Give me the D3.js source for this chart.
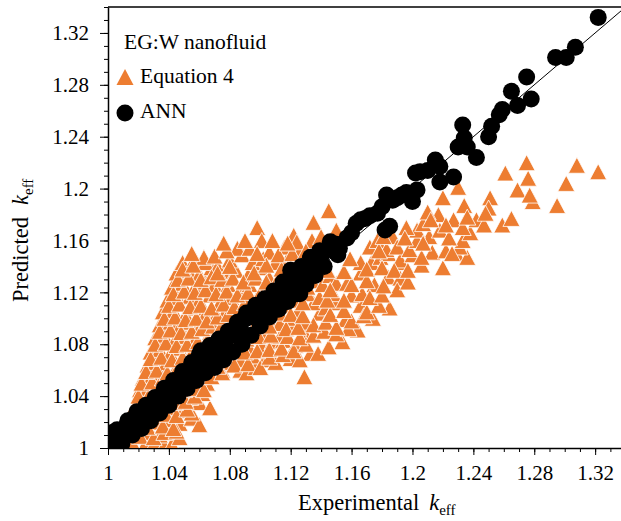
<!DOCTYPE html>
<html>
<head>
<meta charset="utf-8">
<script src="https://cdn.jsdelivr.net/npm/d3@7"></script>
<style>
  body { margin: 0; background: #fff; }
  svg { display: block; font-family: "Liberation Serif", "Times New Roman", serif; }
  .axis path, .axis line { stroke: #000; }
  .axis text { font-size: 21px; fill: #000; font-family: "Liberation Serif", "Times New Roman", serif; }
</style>
</head>
<body>
<div id="chart"></div>
<script>
// ANN predictions [experimental, predicted]
const annPoints = [
  [1.003, 1.006], [1.005, 1.004], [1.003, 1.012], [1.007, 1.009], [1.011, 1.013],
  [1.012, 1.017], [1.015, 1.019], [1.017, 1.023], [1.020, 1.022], [1.023, 1.025],
  [1.026, 1.029], [1.028, 1.027], [1.030, 1.032], [1.032, 1.035], [1.035, 1.038],
  [1.037, 1.041], [1.039, 1.042], [1.041, 1.046], [1.044, 1.048], [1.046, 1.052],
  [1.049, 1.054], [1.051, 1.055], [1.053, 1.059], [1.056, 1.062], [1.058, 1.064],
  [1.060, 1.067], [1.060, 1.072], [1.063, 1.069], [1.066, 1.072], [1.068, 1.075],
  [1.070, 1.069], [1.071, 1.078], [1.074, 1.079], [1.076, 1.082], [1.078, 1.084],
  [1.080, 1.087], [1.082, 1.089], [1.085, 1.092], [1.087, 1.095], [1.089, 1.099],
  [1.089, 1.086], [1.091, 1.100], [1.094, 1.103], [1.097, 1.105], [1.099, 1.107],
  [1.101, 1.109], [1.104, 1.112], [1.106, 1.114], [1.108, 1.116], [1.111, 1.117],
  [1.113, 1.119], [1.115, 1.122], [1.117, 1.125], [1.119, 1.128], [1.120, 1.137],
  [1.121, 1.130], [1.123, 1.133], [1.126, 1.119], [1.126, 1.135], [1.128, 1.137],
  [1.130, 1.139], [1.133, 1.143], [1.135, 1.147], [1.138, 1.148], [1.141, 1.150],
  [1.144, 1.153], [1.148, 1.155], [1.150, 1.157], [1.152, 1.154], [1.151, 1.149],
  [1.157, 1.162], [1.160, 1.166], [1.163, 1.173], [1.166, 1.176], [1.169, 1.177],
  [1.172, 1.179], [1.177, 1.181], [1.180, 1.186], [1.183, 1.195], [1.182, 1.168],
  [1.185, 1.171], [1.187, 1.191], [1.190, 1.193], [1.193, 1.195], [1.196, 1.197],
  [1.200, 1.190], [1.203, 1.199], [1.202, 1.212], [1.205, 1.213], [1.210, 1.214],
  [1.215, 1.222], [1.218, 1.217], [1.218, 1.205], [1.227, 1.209], [1.230, 1.232],
  [1.233, 1.249], [1.234, 1.239], [1.236, 1.232], [1.242, 1.224], [1.250, 1.240],
  [1.252, 1.248], [1.257, 1.257], [1.259, 1.261], [1.265, 1.275], [1.269, 1.264],
  [1.275, 1.286], [1.278, 1.269], [1.294, 1.301], [1.301, 1.301], [1.307, 1.309],
  [1.322, 1.332],
  // upper edge of the dense band
  [1.006, 1.014], [1.013, 1.021], [1.019, 1.028], [1.025, 1.033], [1.031, 1.039],
  [1.037, 1.046], [1.043, 1.052], [1.049, 1.059], [1.055, 1.066], [1.061, 1.075],
  [1.067, 1.079], [1.073, 1.084], [1.079, 1.090], [1.085, 1.097], [1.091, 1.104],
  [1.097, 1.110], [1.103, 1.115], [1.109, 1.121], [1.115, 1.128], [1.121, 1.134],
  [1.127, 1.140], [1.133, 1.147], [1.139, 1.152], [1.146, 1.159],
  // lower edge of the dense band
  [1.009, 1.003], [1.016, 1.010], [1.022, 1.015], [1.028, 1.021], [1.034, 1.027],
  [1.040, 1.033], [1.046, 1.040], [1.052, 1.046], [1.058, 1.052], [1.064, 1.058],
  [1.070, 1.062], [1.076, 1.068], [1.082, 1.074], [1.088, 1.080], [1.094, 1.087],
  [1.100, 1.094], [1.106, 1.101], [1.112, 1.107], [1.118, 1.113], [1.124, 1.119],
  [1.130, 1.126], [1.136, 1.133], [1.142, 1.140]
];

// Equation 4 predictions [experimental, predicted]
const eq4Points = [
  // above the ANN band
  [1.009, 1.008], [1.014, 1.014], [1.014, 1.022], [1.020, 1.025], [1.018, 1.033],
  [1.024, 1.035], [1.021, 1.045], [1.026, 1.046], [1.023, 1.054], [1.029, 1.056],
  [1.035, 1.052], [1.026, 1.064], [1.031, 1.066], [1.037, 1.063], [1.044, 1.060],
  [1.028, 1.074], [1.034, 1.076], [1.041, 1.073], [1.047, 1.077], [1.054, 1.072],
  [1.031, 1.085], [1.037, 1.087], [1.044, 1.083], [1.051, 1.086], [1.057, 1.083],
  [1.064, 1.079], [1.034, 1.095], [1.041, 1.097], [1.047, 1.093], [1.054, 1.097],
  [1.060, 1.092], [1.067, 1.089], [1.074, 1.087], [1.036, 1.105], [1.043, 1.106],
  [1.051, 1.103], [1.057, 1.108], [1.064, 1.103], [1.070, 1.100], [1.077, 1.105],
  [1.083, 1.099], [1.039, 1.114], [1.046, 1.116], [1.054, 1.117], [1.060, 1.114],
  [1.067, 1.118], [1.074, 1.113], [1.081, 1.116], [1.089, 1.110], [1.097, 1.114],
  [1.042, 1.124], [1.049, 1.127], [1.057, 1.124], [1.064, 1.128], [1.070, 1.126],
  [1.079, 1.126], [1.087, 1.122], [1.093, 1.126], [1.101, 1.120], [1.106, 1.124],
  [1.045, 1.135], [1.053, 1.137], [1.060, 1.134], [1.068, 1.139], [1.076, 1.136],
  [1.084, 1.137], [1.092, 1.133], [1.100, 1.139], [1.106, 1.131], [1.113, 1.133],
  [1.049, 1.143], [1.057, 1.146], [1.064, 1.143], [1.063, 1.147], [1.072, 1.140],
  [1.080, 1.145], [1.088, 1.149], [1.095, 1.143], [1.102, 1.146], [1.110, 1.143],
  [1.118, 1.146], [1.125, 1.141], [1.085, 1.154], [1.093, 1.154], [1.106, 1.151],
  [1.116, 1.155], [1.126, 1.153], [1.098, 1.170], [1.101, 1.160], [1.122, 1.164],
  [1.124, 1.159], [1.135, 1.174], [1.145, 1.183], [1.144, 1.158], [1.150, 1.168],
  [1.134, 1.160],
  [1.020, 1.040], [1.027, 1.041], [1.022, 1.050], [1.029, 1.051], [1.036, 1.054],
  [1.025, 1.059], [1.032, 1.060], [1.039, 1.058], [1.046, 1.062], [1.028, 1.069],
  [1.035, 1.070], [1.042, 1.068], [1.049, 1.070], [1.056, 1.075], [1.031, 1.080],
  [1.038, 1.081], [1.045, 1.079], [1.052, 1.080], [1.059, 1.082], [1.066, 1.085],
  [1.034, 1.090], [1.041, 1.091], [1.048, 1.089], [1.055, 1.090], [1.062, 1.092],
  [1.069, 1.094], [1.075, 1.095], [1.037, 1.100], [1.044, 1.101], [1.051, 1.099],
  [1.058, 1.100], [1.065, 1.098], [1.072, 1.101], [1.079, 1.103], [1.040, 1.110],
  [1.047, 1.111], [1.054, 1.109], [1.061, 1.110], [1.068, 1.108], [1.076, 1.111],
  [1.083, 1.109], [1.090, 1.112], [1.043, 1.119], [1.050, 1.121], [1.057, 1.120],
  [1.064, 1.122], [1.071, 1.119], [1.078, 1.121], [1.085, 1.118], [1.092, 1.120],
  [1.099, 1.117], [1.046, 1.130], [1.053, 1.131], [1.061, 1.130], [1.068, 1.132],
  [1.075, 1.130], [1.082, 1.131], [1.089, 1.128], [1.097, 1.131], [1.104, 1.128],
  [1.111, 1.125], [1.049, 1.138], [1.056, 1.141], [1.072, 1.135], [1.080, 1.140],
  [1.096, 1.135], [1.104, 1.141], [1.114, 1.138], [1.120, 1.136], [1.055, 1.150],
  [1.070, 1.148], [1.078, 1.152], [1.098, 1.150], [1.112, 1.149], [1.121, 1.150],
  [1.130, 1.152], [1.076, 1.158], [1.090, 1.160], [1.108, 1.160], [1.118, 1.158],
  [1.140, 1.163],
  // below the ANN band
  [1.024, 1.002], [1.031, 1.005], [1.037, 1.002], [1.042, 1.003], [1.028, 1.012],
  [1.034, 1.010], [1.041, 1.014], [1.047, 1.008], [1.032, 1.020], [1.039, 1.022],
  [1.047, 1.019], [1.055, 1.023], [1.060, 1.018], [1.041, 1.031], [1.049, 1.029],
  [1.055, 1.027], [1.060, 1.035], [1.067, 1.031], [1.047, 1.040], [1.054, 1.039],
  [1.062, 1.042], [1.057, 1.049], [1.065, 1.050], [1.067, 1.059], [1.075, 1.060],
  [1.080, 1.066], [1.087, 1.060], [1.091, 1.058], [1.097, 1.062], [1.070, 1.066],
  [1.079, 1.072], [1.087, 1.068], [1.095, 1.071], [1.103, 1.068], [1.110, 1.066],
  [1.120, 1.069], [1.133, 1.073], [1.138, 1.073], [1.129, 1.055], [1.085, 1.081],
  [1.093, 1.077], [1.101, 1.079], [1.108, 1.082], [1.115, 1.083], [1.123, 1.079],
  [1.154, 1.082], [1.095, 1.091], [1.103, 1.089], [1.113, 1.086], [1.122, 1.093],
  [1.129, 1.089], [1.164, 1.091], [1.099, 1.097], [1.105, 1.100], [1.113, 1.096],
  [1.122, 1.100], [1.129, 1.097], [1.139, 1.104], [1.156, 1.099], [1.174, 1.100],
  [1.110, 1.108], [1.116, 1.110], [1.125, 1.106], [1.135, 1.112], [1.143, 1.108],
  [1.150, 1.112], [1.166, 1.110], [1.185, 1.108], [1.131, 1.119], [1.139, 1.116],
  [1.148, 1.119], [1.160, 1.118], [1.167, 1.119], [1.134, 1.129], [1.141, 1.126],
  [1.146, 1.133], [1.150, 1.127], [1.157, 1.127], [1.166, 1.135], [1.175, 1.126],
  [1.184, 1.132], [1.192, 1.131], [1.139, 1.139], [1.173, 1.143], [1.193, 1.143],
  [1.166, 1.143], [1.179, 1.147], [1.184, 1.150], [1.192, 1.145], [1.200, 1.149],
  [1.213, 1.151], [1.220, 1.139], [1.229, 1.150], [1.236, 1.147], [1.172, 1.155],
  [1.177, 1.160], [1.183, 1.153], [1.187, 1.163], [1.190, 1.155], [1.198, 1.153],
  [1.203, 1.160], [1.211, 1.163], [1.218, 1.168], [1.231, 1.155], [1.233, 1.160],
  [1.238, 1.166], [1.203, 1.168], [1.196, 1.170], [1.207, 1.173], [1.217, 1.180],
  [1.227, 1.176], [1.233, 1.170], [1.242, 1.176], [1.259, 1.172], [1.265, 1.177],
  [1.210, 1.182], [1.220, 1.193], [1.234, 1.187], [1.251, 1.193], [1.250, 1.185],
  [1.279, 1.190], [1.295, 1.187], [1.230, 1.201], [1.269, 1.199], [1.277, 1.195],
  [1.276, 1.208], [1.301, 1.204], [1.261, 1.212], [1.275, 1.220], [1.308, 1.218],
  [1.322, 1.213],
  [1.016, 1.004], [1.021, 1.009], [1.030, 1.008], [1.037, 1.012], [1.045, 1.013],
  [1.026, 1.016], [1.036, 1.017], [1.043, 1.015], [1.038, 1.026], [1.045, 1.025],
  [1.052, 1.030], [1.044, 1.035], [1.051, 1.036], [1.057, 1.040], [1.050, 1.045],
  [1.058, 1.046], [1.063, 1.045], [1.060, 1.055], [1.068, 1.055], [1.075, 1.058],
  [1.072, 1.063], [1.083, 1.064], [1.092, 1.065], [1.100, 1.062], [1.106, 1.070],
  [1.115, 1.072], [1.126, 1.068], [1.082, 1.075], [1.090, 1.074], [1.098, 1.075],
  [1.106, 1.076], [1.114, 1.077], [1.122, 1.075], [1.130, 1.080], [1.145, 1.078],
  [1.091, 1.084], [1.099, 1.086], [1.107, 1.087], [1.118, 1.086], [1.126, 1.085],
  [1.135, 1.087], [1.142, 1.090], [1.150, 1.088], [1.158, 1.092], [1.106, 1.094],
  [1.117, 1.092], [1.125, 1.093], [1.135, 1.095], [1.143, 1.097], [1.150, 1.093],
  [1.160, 1.098], [1.168, 1.102], [1.113, 1.104], [1.120, 1.103], [1.128, 1.102],
  [1.146, 1.103], [1.155, 1.106], [1.170, 1.105], [1.178, 1.110], [1.122, 1.114],
  [1.128, 1.112], [1.144, 1.114], [1.155, 1.114], [1.172, 1.116], [1.180, 1.118],
  [1.190, 1.122], [1.131, 1.124], [1.146, 1.122], [1.160, 1.126], [1.170, 1.129],
  [1.181, 1.125], [1.197, 1.128], [1.144, 1.137], [1.155, 1.136], [1.170, 1.138],
  [1.180, 1.139], [1.188, 1.137], [1.197, 1.137], [1.206, 1.141], [1.159, 1.146],
  [1.178, 1.152], [1.206, 1.147], [1.222, 1.152], [1.181, 1.163], [1.195, 1.162],
  [1.207, 1.158], [1.224, 1.162], [1.226, 1.150], [1.212, 1.176], [1.222, 1.172],
  [1.236, 1.178], [1.247, 1.172], [1.248, 1.181]
];

const tickValues = [1, 1.04, 1.08, 1.12, 1.16, 1.2, 1.24, 1.28, 1.32];
const minorTicks = d3.range(0, 35).map(i => 1 + i / 100);
const legendItems = ['Equation 4', 'ANN'];

const width = 621, height = 521;
const margin = { top: 7, left: 108, bottom: 73 };
const plotW = 517.6;
const plotH = height - margin.top - margin.bottom;
const orange = '#ED7D31';

const svg = d3.select('#chart').append('svg')
  .attr('width', width)
  .attr('height', height);

const x = d3.scaleLinear().domain([1, 1.34]).range([margin.left, margin.left + plotW]);
const y = d3.scaleLinear().domain([1, 1.34]).range([margin.top + plotH, margin.top]);

const fmt = v => String(+v.toFixed(2));

svg.append('clipPath').attr('id', 'clip')
  .append('rect')
  .attr('x', x(1)).attr('y', y(1.34))
  .attr('width', plotW).attr('height', plotH);

// minor ticks
svg.append('g')
  .attr('class', 'axis')
  .attr('transform', 'translate(0,' + y(1) + ')')
  .call(d3.axisBottom(x).tickValues(minorTicks).tickSize(4).tickFormat(''))
  .call(g => g.select('.domain').remove());
svg.append('g')
  .attr('class', 'axis')
  .attr('transform', 'translate(' + x(1) + ',0)')
  .call(d3.axisLeft(y).tickValues(minorTicks).tickSize(4).tickFormat(''))
  .call(g => g.select('.domain').remove());

// major ticks
svg.append('g')
  .attr('class', 'axis')
  .attr('transform', 'translate(0,' + y(1) + ')')
  .call(d3.axisBottom(x).tickValues(tickValues).tickSize(7).tickSizeOuter(0).tickPadding(10).tickFormat(fmt))
  .call(g => g.select('.domain').attr('stroke-width', 1.5));
svg.append('g')
  .attr('class', 'axis')
  .attr('transform', 'translate(' + x(1) + ',0)')
  .call(d3.axisLeft(y).tickValues(tickValues).tickSize(8).tickSizeOuter(0).tickPadding(11).tickFormat(fmt))
  .call(g => g.select('.domain').attr('stroke-width', 1.5));

// top border
svg.append('line')
  .attr('x1', x(1)).attr('x2', x(1.34))
  .attr('y1', y(1.34)).attr('y2', y(1.34))
  .attr('stroke', '#000').attr('stroke-width', 1.5);

const plot = svg.append('g').attr('clip-path', 'url(#clip)');

// y = x line
plot.append('line')
  .attr('x1', x(1)).attr('y1', y(1))
  .attr('x2', x(1.34)).attr('y2', y(1.34))
  .attr('stroke', '#000').attr('stroke-width', 1);

const tri = (w, h) => `M0,${-h / 2}L${w / 2},${h / 2}L${-w / 2},${h / 2}Z`;

plot.selectAll('.eq4')
  .data(eq4Points)
  .enter().append('path')
  .attr('class', 'eq4')
  .attr('d', tri(17, 16))
  .attr('transform', d => 'translate(' + x(d[0]) + ',' + y(d[1]) + ')')
  .attr('fill', orange)
  .attr('stroke', '#fff')
  .attr('stroke-width', 0.8);

plot.selectAll('.ann')
  .data(annPoints)
  .enter().append('circle')
  .attr('class', 'ann')
  .attr('cx', d => x(d[0]))
  .attr('cy', d => y(d[1]))
  .attr('r', 8.5)
  .attr('fill', '#000');

// legend
const legend = svg.append('g');
legend.append('text')
  .attr('x', 124).attr('y', 49)
  .attr('font-size', 21.5)
  .text('EG:W nanofluid');
legend.append('path')
  .attr('d', tri(17, 16))
  .attr('transform', 'translate(125,77)')
  .attr('fill', orange);
legend.append('circle')
  .attr('cx', 125).attr('cy', 113).attr('r', 8.5)
  .attr('fill', '#000');
legend.selectAll('.lbl')
  .data(legendItems)
  .enter().append('text')
  .attr('class', 'lbl')
  .attr('x', 140)
  .attr('y', (d, i) => 83 + i * 35)
  .attr('font-size', 21.5)
  .text(d => d);

// axis titles
const xt = svg.append('text')
  .attr('x', 298).attr('y', 510)
  .attr('font-size', 22.5);
xt.append('tspan').text('Experimental');
xt.append('tspan').attr('dx', 10).attr('font-style', 'italic').text('k');
xt.append('tspan').attr('font-size', 15).attr('dy', 5).text('eff');

const yt = svg.append('text')
  .attr('transform', 'translate(28,302) rotate(-90)')
  .attr('font-size', 22.5);
yt.append('tspan').text('Predicted');
yt.append('tspan').attr('dx', 12).attr('font-style', 'italic').text('k');
yt.append('tspan').attr('font-size', 15).attr('dy', 5).text('eff');
</script>
</body>
</html>
